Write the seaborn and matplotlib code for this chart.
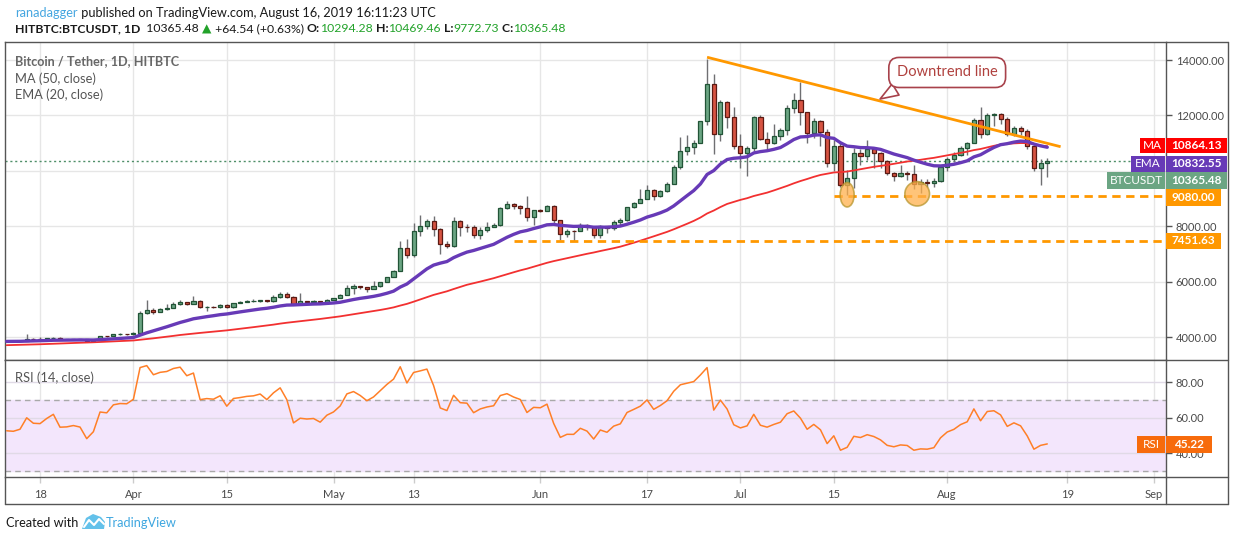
import numpy as np
import pandas as pd
import matplotlib
matplotlib.use("Agg")
import matplotlib.pyplot as plt
import matplotlib.dates as mdates
from matplotlib.patches import Rectangle, Ellipse, Polygon
from matplotlib.lines import Line2D
import seaborn as sns

# ---------------- data ----------------
warmup_start = "2019-01-22"
warmup_closes = [3575, 3553, 3591, 3576, 3575, 3561, 3464, 3459, 3487, 3458,
                 3487, 3521, 3464, 3459, 3466, 3414, 3401, 3625, 3625, 3674, 3614, 3630, 3617, 3598,
                 3605, 3623, 3670, 3914, 3939, 3978, 3943, 3979, 4135, 3766, 3820, 3807, 3817, 3824,
                 3835, 3847, 3814, 3727, 3869, 3877, 3887, 3877, 3924, 3901, 3857, 3867]

start_date = "2019-03-13"
closes = [3854, 3851, 3864, 3944, 3915, 3913, 3948, 3978, 3914, 3916, 3924, 3917, 3860, 3896, 4030, 4026, 4095, 4107, 4106,
          4146, 4858, 4971, 4902, 5005, 5044, 5192, 5264, 5199, 5311, 5069, 5095, 5089, 5167, 5068, 5236, 5258, 5285, 5297, 5336,
          5292, 5431, 5553, 5453, 5207, 5286, 5277, 5285, 5247, 5350,
          5402, 5505, 5768, 5831, 5795, 5747, 5829, 5982, 6174, 6378, 7204, 6972, 7814, 7995, 8206, 7885, 7343, 7272, 8197, 7978,
          7963, 7680, 7881, 7987, 8052, 8673, 8805, 8720, 8659, 8319, 8574,
          8564, 8742, 8208, 7707, 7824, 7822, 8043, 7954, 7688, 8000, 7927, 8145, 8230, 8693, 8838, 8994, 9320, 9082, 9273, 9527,
          10144, 10701, 10855, 11011, 11790, 13135, 11340, 12480, 11960, 10890,
          10650, 10830, 11960, 11160, 11015, 11260, 11460, 12280, 12565, 12120, 11360, 11780, 11400, 10280, 10900, 9500, 9730,
          10660, 10550, 10790, 10640, 10370, 9915, 9795, 9910, 9870, 9520, 9590, 9570, 9640, 10120,
          10430, 10575, 10840, 11000, 11850, 11320, 12000, 12060, 11880, 11340, 11560, 11420, 10910, 10100, 10294.28, 10365.48]
highs = [3890, 3900, 3900, 4100, 3950, 3990, 3960, 3990, 4000, 3930, 3935, 3930, 3935, 3905, 4040, 4040, 4100, 4130, 4115,
         4165, 4930, 5330, 5050, 5060, 5200, 5250, 5340, 5270, 5470, 5320, 5110, 5130, 5180, 5190, 5240, 5300, 5320, 5360, 5350,
         5350, 5500, 5630, 5620, 5480, 5580, 5310, 5320, 5310, 5380,
         5410, 5540, 5860, 5930, 5840, 5800, 6020, 5990, 6180, 6420, 7480, 7550, 8100, 8400, 8260, 8360, 7950, 7450, 8315, 8230,
         8080, 8040, 7960, 8150, 8130, 8700, 8900, 8830, 8760, 9080, 8590,
         8630, 8770, 8750, 8220, 7900, 7860, 8110, 8070, 7970, 8050, 8010, 8220, 8300, 8700, 8880, 9350, 9480, 9350, 9300, 9600,
         10200, 11210, 11300, 11100, 11800, 14050, 13500, 12560, 12520, 12290,
         11340, 10900, 11980, 12030, 11400, 11690, 11550, 12360, 12800, 13190, 12130, 11900, 11850, 11500, 11100, 11000, 10040,
         10820, 10780, 11120, 10830, 10680, 10400, 9950, 10220, 9990, 10220, 9720, 9720, 9750, 10140,
         10500, 10680, 10900, 11050, 11900, 12310, 12100, 12100, 12080, 11950, 11600, 11600, 11500, 10920, 10440, 10469.46]
lows = [3830, 3815, 3850, 3860, 3895, 3895, 3900, 3930, 3880, 3900, 3905, 3895, 3830, 3850, 3890, 4010, 4020, 4080, 4090,
        4090, 4145, 4820, 4830, 4900, 4990, 5040, 5170, 5170, 5190, 5030, 4930, 5060, 5060, 5030, 5060, 5230, 5250, 5250, 5280,
        5250, 5280, 5420, 5420, 5170, 5150, 5260, 5260, 5200, 5240,
        5340, 5400, 5500, 5550, 5740, 5630, 5740, 5800, 5980, 6150, 6370, 6850, 6900, 7650, 7900, 7650, 7000, 7230, 7240, 7640,
        7800, 7557, 7530, 7800, 7960, 8000, 8630, 8620, 8450, 8200, 8060,
        8530, 8550, 8130, 7520, 7600, 7480, 7810, 7880, 7560, 7580, 7760, 7860, 8060, 8200, 8650, 8830, 8970, 8950, 9050, 9250,
        9520, 10080, 10560, 10600, 11000, 11650, 10610, 11060, 11540, 10790,
        10100, 9800, 10700, 11100, 10800, 10980, 11130, 11300, 12080, 11640, 11000, 11200, 10900, 10150, 9975, 9400, 9135,
        9376, 10220, 10400, 10100, 10090, 9850, 9615, 9760, 9680, 9330, 9200, 9400, 9430, 9590,
        9975, 10330, 10520, 10570, 10990, 11180, 11280, 11600, 11700, 11250, 11250, 11300, 10800, 10000, 9500, 9772.73]

ma_label_value = 10864.13
ema_label_value = 10832.55
last_close = 10365.48
rsi_label_value = 45.22
support_levels = [9080.00, 7451.63]
support_starts = ["2019-07-15", "2019-05-28"]
trend_dates = ["2019-06-26", "2019-08-18"]
trend_prices = [14100, 10870]
circle_dates = ["2019-07-17", "2019-07-27 12:00"]
circle_prices = [9135, 9170]
callout_text = "Downtrend line"

x_tick_dates = ["2019-03-18", "2019-04-01", "2019-04-15", "2019-05-01", "2019-05-13", "2019-06-01",
                "2019-06-17", "2019-07-01", "2019-07-15", "2019-08-01", "2019-08-19", "2019-09-01"]
x_tick_labels = ["18", "Apr", "15", "May", "13", "Jun", "17", "Jul", "15", "Aug", "19", "Sep"]
price_ticks = [4000, 6000, 8000, 10000, 12000, 14000]
rsi_ticks = [40, 60, 80]

# ---------------- indicators ----------------
all_close = pd.Series(warmup_closes + closes,
                      index=pd.date_range(warmup_start, periods=len(warmup_closes) + len(closes), freq="D"))
ema20 = all_close.ewm(span=20, adjust=False).mean()
ma50 = all_close.rolling(50).mean()
delta = all_close.diff()
gain = delta.clip(lower=0).ewm(alpha=1 / 14, adjust=False).mean()
loss = (-delta.clip(upper=0)).ewm(alpha=1 / 14, adjust=False).mean()
rsi = 100 - 100 / (1 + gain / loss)
opens_all = all_close.shift(1)

dates = pd.date_range(start_date, periods=len(closes), freq="D")
df = pd.DataFrame({"date": dates, "open": opens_all.loc[dates].values, "high": highs, "low": lows,
                   "close": closes, "ema": ema20.loc[dates].values, "ma": ma50.loc[dates].values,
                   "rsi": rsi.loc[dates].values})

# ---------------- figure ----------------
sns.set_theme(style="white")
plt.rcParams["font.family"] = ["Lato", "DejaVu Sans"]
W, H = 1234, 540
fig = plt.figure(figsize=(W / 100, H / 100), dpi=100)
fig.patch.set_facecolor("white")


def fx(px):
    return px / W


def fy(py):
    return 1 - py / H


FRAME = "#555555"
L, R, T, MID, RB, XB, RR = 5, 1166, 42, 360, 477, 504, 1228
ax = fig.add_axes([fx(L), fy(MID), (R - L) / W, (MID - T) / H])
axr = fig.add_axes([fx(L), fy(RB), (R - L) / W, (RB - MID) / H], sharex=ax)

d0 = mdates.date2num(pd.Timestamp("2019-03-18"))
xlim = (d0 - 5.25, d0 + 168.8)

grid_c = "#e6e6e6"
for a in (ax, axr):
    a.set_facecolor("white")
    for t in x_tick_dates:
        a.axvline(pd.Timestamp(t), color=grid_c, lw=1, zorder=0)
for p in price_ticks:
    ax.axhline(p, color=grid_c, lw=1, zorder=0)

# candles
up = df["close"] >= df["open"]
ax.vlines(df["date"], df["low"], df["high"], color="#6f6f72", lw=1, zorder=2)
body_bottom = np.minimum(df["open"], df["close"])
body_h = np.abs(df["close"] - df["open"])
ax.bar(df["date"][up], body_h[up], bottom=body_bottom[up], width=0.62,
       color="#6ba583", edgecolor="#225437", linewidth=0.9, zorder=3)
ax.bar(df["date"][~up], body_h[~up], bottom=body_bottom[~up], width=0.62,
       color="#d75442", edgecolor="#5b1a13", linewidth=0.9, zorder=3)

# moving averages
sns.lineplot(x=df["date"], y=df["ma"], ax=ax, color="#f23030", linewidth=1.3, legend=False, zorder=4)
sns.lineplot(x=df["date"], y=df["ema"], ax=ax, color="#673ab7", linewidth=2.4, legend=False, zorder=5)

# last price dotted line
ax.axhline(last_close, color="#4f8f69", lw=1, ls=(0, (1.5, 2)), zorder=1)

# support lines
for lvl, st in zip(support_levels, support_starts):
    ax.hlines(lvl, pd.Timestamp(st), mdates.num2date(xlim[1]), color="#ff9800", lw=2,
              linestyles=(0, (3, 2)), zorder=4)

# trend line
ax.plot([pd.Timestamp(t) for t in trend_dates], trend_prices, color="#ff9800", lw=2, zorder=6,
        solid_capstyle="butt")

# highlight circles
for cd, cp, w in zip(circle_dates, circle_prices, [2.1, 3.7]):
    ax.add_patch(Ellipse((mdates.date2num(pd.Timestamp(cd)), cp), width=w, height=880,
                         facecolor="#ffb04c", alpha=0.75, edgecolor="#b8962e", lw=1.2, zorder=7))

# callout
tip_x = mdates.date2num(pd.Timestamp("2019-07-21 14:00"))
t0, t1 = mdates.date2num(pd.Timestamp(trend_dates[0])), mdates.date2num(pd.Timestamp(trend_dates[1]))
tip_y = trend_prices[0] + (trend_prices[1] - trend_prices[0]) * (tip_x - t0) / (t1 - t0)
ax.annotate(callout_text, xy=(tip_x, tip_y), xytext=(mdates.date2num(pd.Timestamp("2019-08-01")), 13550),
            ha="center", va="center", fontsize=10.5, color="#b0413e", zorder=8,
            bbox=dict(boxstyle="round,pad=0.55,rounding_size=0.7", fc="white", ec="#a8424b", lw=1.2),
            arrowprops=dict(arrowstyle="wedge,tail_width=0.9,shrink_factor=0.5", fc="white", ec="#a8424b",
                            lw=1.2, relpos=(0.15, 0.0)))

ax.set_xlim(xlim)
ax.set_ylim(3170, 14650)
ax.set_yticks(price_ticks)
ax.set_yticklabels([("%.2f" % p) if p != 10000 else "" for p in price_ticks])

# RSI panel
axr.axhspan(30, 70, color="#f3e6fc", zorder=0)
for v in rsi_ticks:
    axr.axhline(v, color="#e0dae6", lw=1, zorder=0.5)
for v in (30, 70):
    axr.axhline(v, color="#a9a9a9", lw=1, ls=(0, (4, 3)), zorder=1)
sns.lineplot(x=df["date"], y=df["rsi"], ax=axr, color="#ff7f27", linewidth=1.1, legend=False, zorder=3)
axr.set_ylim(26.5, 92.4)
axr.set_yticks(rsi_ticks)
axr.set_yticklabels(["%.2f" % v for v in rsi_ticks])
axr.set_xticks([pd.Timestamp(t) for t in x_tick_dates])
axr.set_xticklabels(x_tick_labels)

for a in (ax, axr):
    a.set_xlabel("")
    a.set_ylabel("")
    a.yaxis.tick_right()
    a.tick_params(axis="y", direction="out", length=4, width=1, color=FRAME, labelsize=8,
                  labelcolor="#4a4a4a", pad=3, right=True, left=False)
    for s in a.spines.values():
        s.set_color(FRAME)
        s.set_linewidth(1)
ax.tick_params(axis="x", bottom=False, labelbottom=False)
axr.tick_params(axis="x", direction="out", length=4, width=1, color="#cccccc", labelsize=8,
                labelcolor="#4a4a4a", pad=5, bottom=True)

# frame lines
def fline(x0, y0, x1, y1, c=FRAME, lw=1):
    fig.add_artist(Line2D([fx(x0), fx(x1)], [fy(y0), fy(y1)], color=c, lw=lw, transform=fig.transFigure))

fline(R, T, RR, T)
fline(RR, T, RR, XB)
fline(L, XB, RR, XB)
fline(L, RB, L, XB)
fline(R, MID, RR, MID)
fline(R, RB, RR, RB)
fline(R, RB, R, XB)

# label boxes on price scale
def box(x0, x1, yc, hgt, color, text, bold=True, size=8.5):
    fig.add_artist(Rectangle((fx(x0), fy(yc + hgt / 2)), (x1 - x0) / W, hgt / H, transform=fig.transFigure,
                             facecolor=color, edgecolor="none", zorder=10))
    fig.text(fx((x0 + x1) / 2), fy(yc), text, color="white", fontsize=size,
             fontweight="bold" if bold else "normal", ha="center", va="center", zorder=11)

box(1140, 1165, 145.5, 15, "#ff0000", "MA", bold=False)
box(1166, 1227, 145.5, 15, "#ff0000", "%.2f" % ma_label_value)
box(1131, 1165, 163.5, 16, "#673ab7", "EMA", bold=False)
box(1166, 1227, 163.5, 16, "#673ab7", "%.2f" % ema_label_value)
box(1107, 1165, 180.5, 16, "#6ba583", "BTCUSDT", bold=False)
box(1166, 1227, 180.5, 16, "#6ba583", "%.2f" % last_close)
box(1166, 1221, 197.5, 16, "#ff9800", "%.2f" % support_levels[0])
box(1166, 1221, 240.5, 16, "#ff9800", "%.2f" % support_levels[1])
box(1137, 1165, 444, 17, "#f76b0c", "RSI", bold=False)
box(1166, 1212, 444, 17, "#f76b0c", "%.2f" % rsi_label_value)

# legend texts
fig.text(fx(15), fy(61), "Bitcoin / Tether, 1D, HITBTC", fontsize=9.1, color="#4d4d4d", fontweight="bold",
         va="center", alpha=0.85)
fig.text(fx(15), fy(79), "MA (50, close)", fontsize=9.3, color="#555555", va="center")
fig.text(fx(15), fy(95), "EMA (20, close)", fontsize=9.3, color="#555555", va="center")
fig.text(fx(15), fy(378), "RSI (14, close)", fontsize=9.3, color="#555555", va="center")

# header
renderer = fig.canvas.get_renderer()


def chain(x, y, parts, size):
    for s, c, wgt in parts:
        t = fig.text(fx(x), fy(y), s, color=c, fontsize=size, fontweight=wgt, va="center", ha="left")
        x += t.get_window_extent(renderer).width


G = "#22a22a"
K = "#1a1a1a"
chain(15, 13, [("ranadagger", "#45a6e0", "normal"),
               (" published on TradingView.com, August 16, 2019 16:11:23 UTC", K, "normal")], 9.2)
chain(15, 29, [("HITBTC:BTCUSDT, 1D", K, "bold"), ("  10365.48 ", K, "normal"), ("▲", G, "normal"),
               (" +64.54 (+0.63%) ", K, "normal"), ("O:", K, "bold"), ("10294.28", G, "normal"),
               (" H:", K, "bold"), ("10469.46", G, "normal"), (" L:", K, "bold"), ("9772.73", G, "normal"),
               (" C:", K, "bold"), ("10365.48", G, "normal")], 8.8)

# footer
chain(6, 523, [("Created with", K, "normal")], 9.2)
fig.add_artist(Polygon([[fx(82), fy(529)], [fx(86), fy(518)], [fx(93), fy(514)], [fx(101), fy(517)],
                        [fx(105), fy(522)], [fx(104), fy(529)]], closed=True, transform=fig.transFigure,
                       facecolor="#63c1ea", edgecolor="none"))
fig.add_artist(Line2D([fx(84), fx(89), fx(94), fx(99), fx(104)], [fy(527), fy(520), fy(525), fy(519), fy(524)],
                      color="white", lw=1.5, transform=fig.transFigure))
chain(106, 523, [("TradingView", "#3fa7e0", "normal")], 9.2)

fig.savefig("out.png", dpi=100, facecolor="white")
